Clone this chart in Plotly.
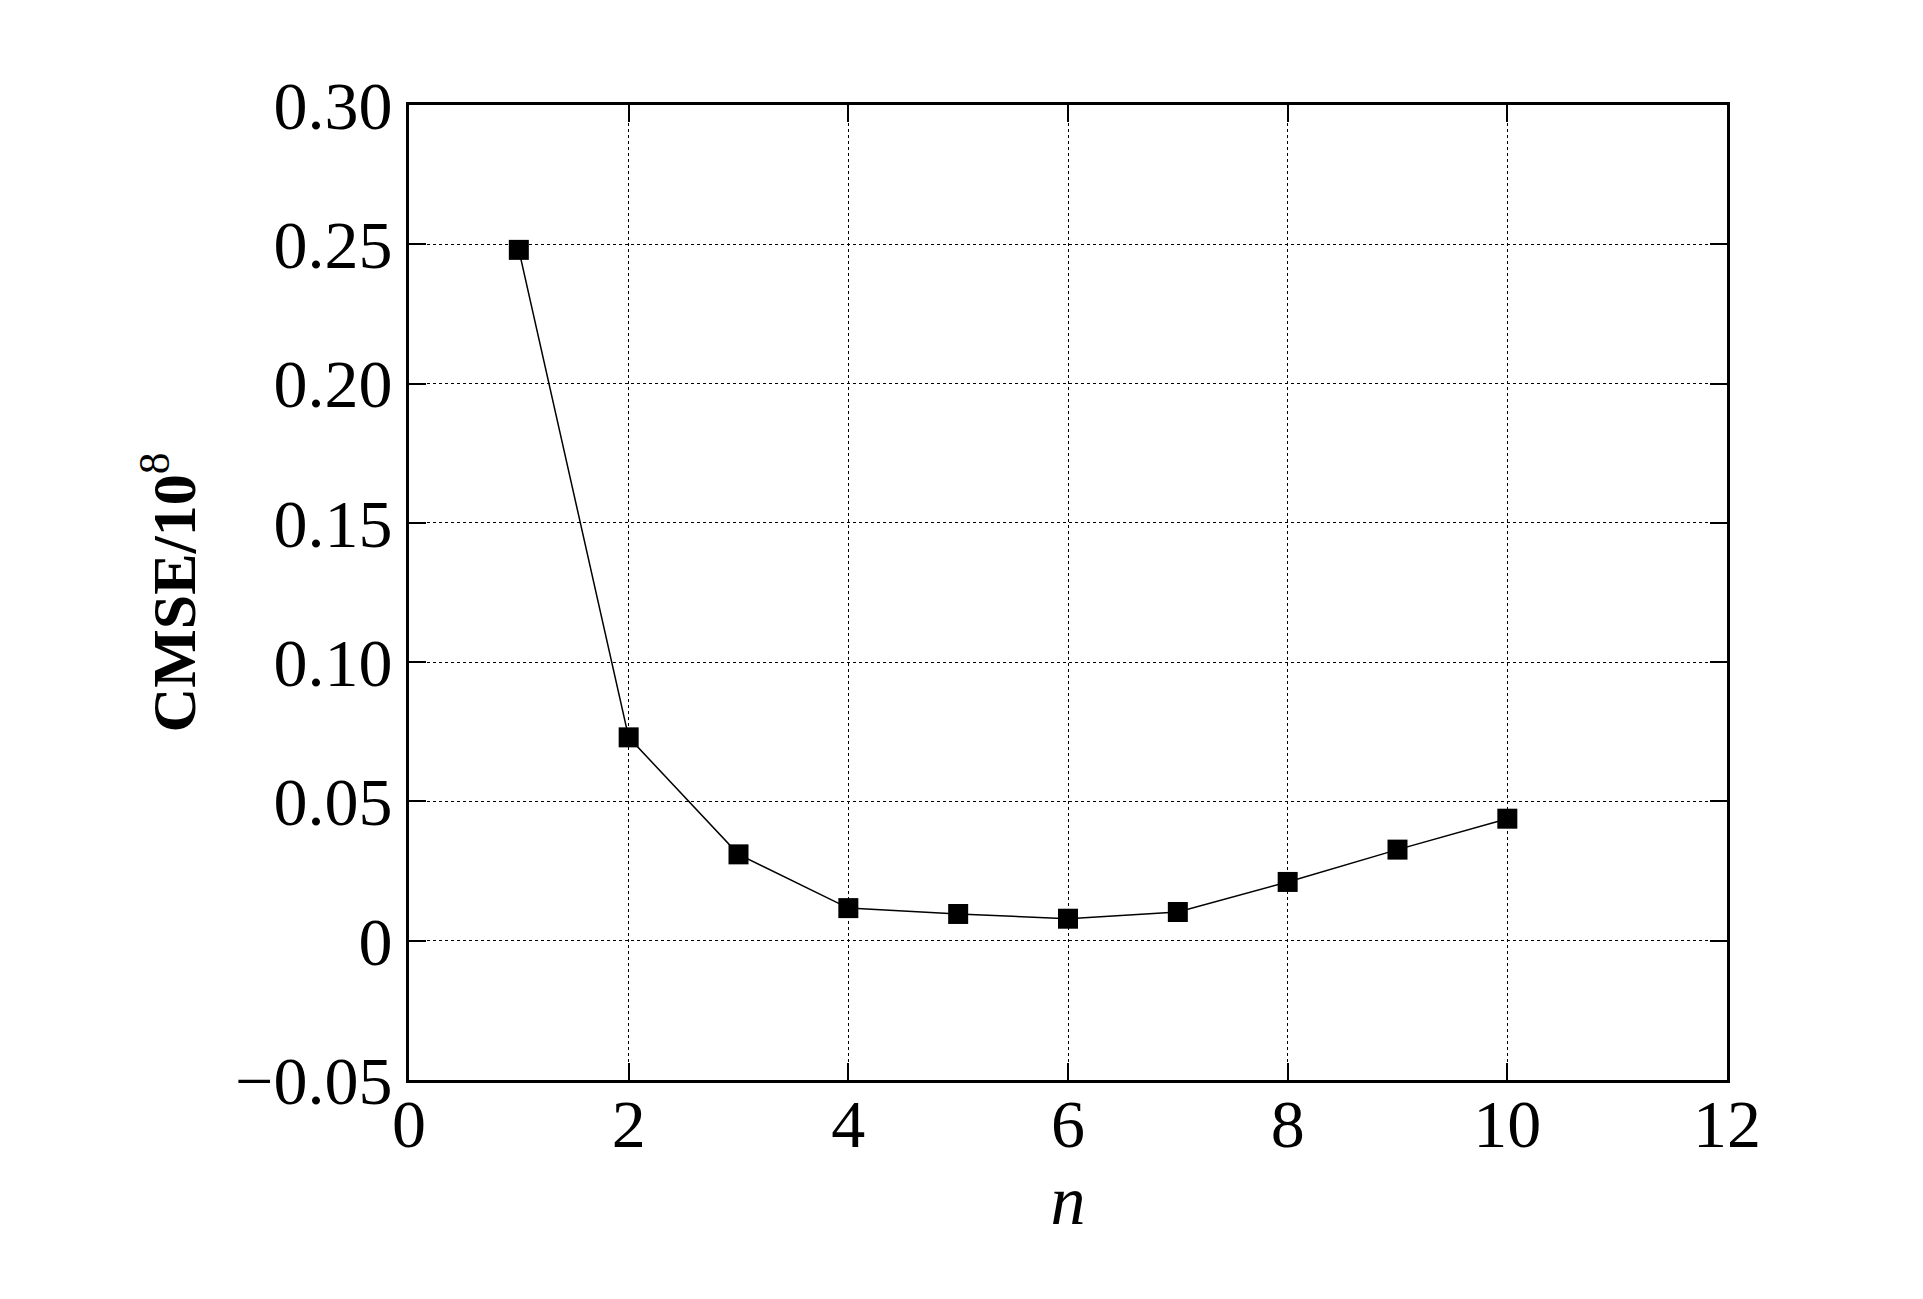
import plotly.graph_objects as go

n_vals = [1, 2, 3, 4, 5, 6, 7, 8, 9, 10]
cmse = [0.248, 0.073, 0.031, 0.0117, 0.0096, 0.0079, 0.0103, 0.0211, 0.0327, 0.0438]

x_ticks = [0, 2, 4, 6, 8, 10, 12]
y_ticks = [-0.05, 0, 0.05, 0.10, 0.15, 0.20, 0.25, 0.30]
y_ticktext = ["\u22120.05", "0", "0.05", "0.10", "0.15", "0.20", "0.25", "0.30"]

font_family = "Liberation Serif"

fig = go.Figure()
fig.add_trace(go.Scatter(
    x=n_vals, y=cmse, mode="lines+markers",
    line=dict(color="black", width=1.5),
    marker=dict(symbol="square", size=20, color="black"),
    showlegend=False,
))

axis_common = dict(
    showline=True, linecolor="black", linewidth=3,
    mirror="allticks", ticks="inside", ticklen=17, tickwidth=2, tickcolor="black",
    showgrid=True, gridcolor="black", gridwidth=1, griddash="dot",
    zeroline=False,
    tickfont=dict(family=font_family, size=68, color="black"),
)

fig.update_xaxes(
    range=[0, 12], tickvals=x_ticks, ticktext=[str(v) for v in x_ticks],
    ticklabelstandoff=-18,
    title=dict(text="<i>n</i>", font=dict(family=font_family, size=70, color="black"), standoff=0),
    **axis_common,
)
fig.update_yaxes(
    range=[-0.05, 0.30], tickvals=y_ticks, ticktext=y_ticktext,
    title=dict(text="<b>CMSE/10</b><sup>8</sup>", font=dict(family=font_family, size=62, color="black"), standoff=20),
    **axis_common,
)

fig.update_layout(
    width=1923, height=1299,
    margin=dict(l=401, r=204, t=97, b=227),
    paper_bgcolor="white", plot_bgcolor="white",
    font=dict(family=font_family, color="black"),
)

fig.write_html("out.html")
